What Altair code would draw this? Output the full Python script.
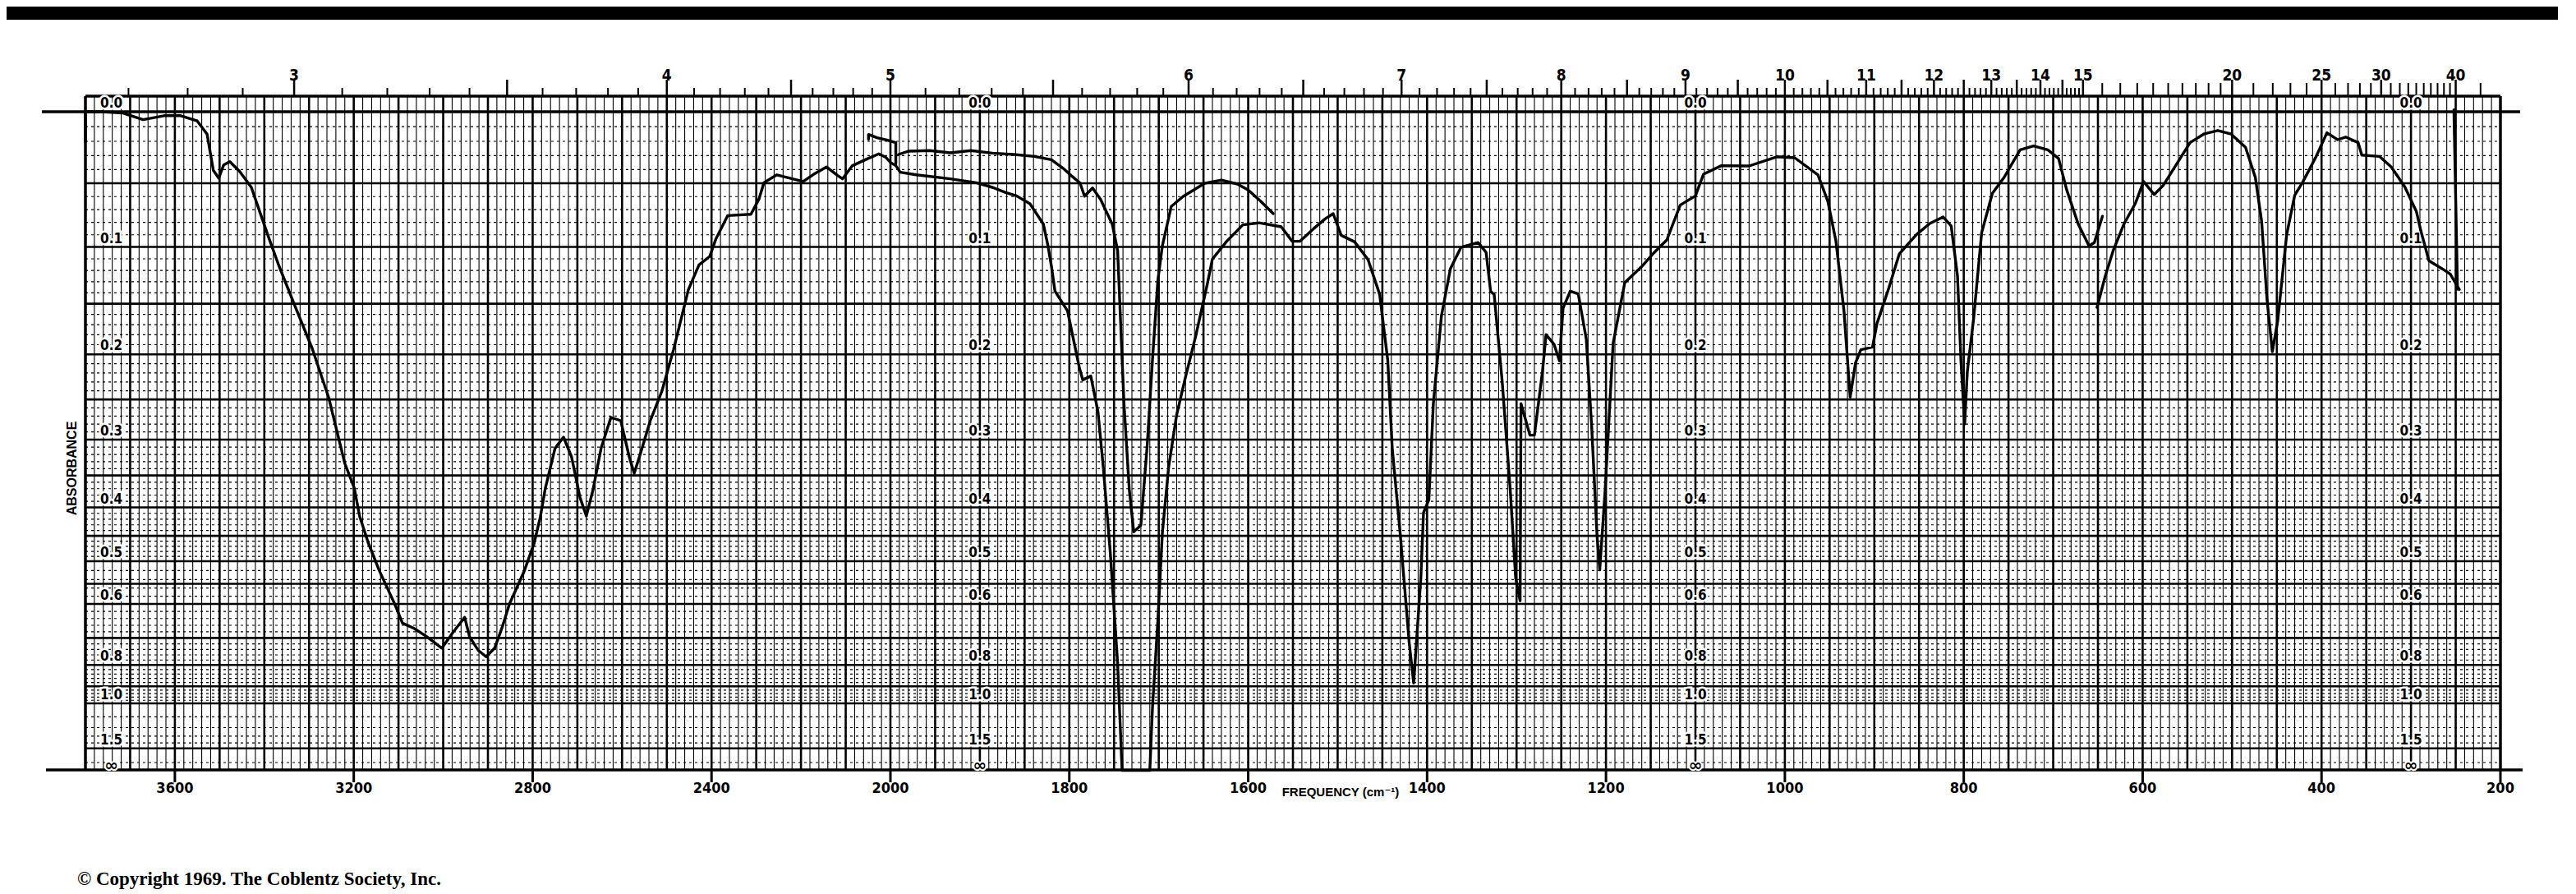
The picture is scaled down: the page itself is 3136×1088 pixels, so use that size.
import altair as alt
import pandas as pd

# ---------------- data (wavenumber cm-1, transmittance %) ----------------
SEG1 = [(3800,95.4),(3800,100.0),(3763,100.0),(3716,99.8),(3671,98.8),(3624,99.4),(3587,99.4),(3550,98.6),
        (3528,96.6),(3514,91.1),(3502,89.9),(3491,91.9),(3477,92.4),(3455,90.9),(3429,88.5),(3392,81.2),
        (3367,76.5),(3330,70.2),(3293,64.0),(3256,56.5),(3220,46.5),(3199,42.8),(3187,38.5),(3168,34.5),
        (3143,30.2),(3109,25.2),(3091,22.2),(3065,21.4),(3036,20.1),(3003,18.4),(2977,20.9),(2952,23.1),
        (2941,20.1),(2922,18.1),(2904,17.1),(2885,18.4),(2867,21.8),(2852,25.1),(2819,30.1),(2797,34.3),
        (2783,38.3),(2772,42.6),(2750,48.8),(2731,50.5),(2713,47.5),(2694,41.3),(2680,38.5),(2665,42.5),
        (2647,48.8),(2625,53.5),(2603,53.0),(2584,47.5),(2573,45.0),(2559,48.0),(2537,53.0),(2511,57.5),
        (2485,63.8),(2452,72.9),(2428,76.7),(2404,78.0),(2390,80.7),(2364,84.2),(2312,84.4),(2294,86.7),
        (2283,89.2),(2254,90.4),(2195,89.4),(2169,90.6),(2143,91.6),(2118,90.3),(2107,89.8),(2085,91.8),
        (2053,92.8),(2026,93.6),(2011,93.1),(2000,92.3),(1994,91.8),(1989,90.8),(1971,90.4),(1933,89.8),
        (1904,89.2),(1886,88.5),(1871,87.7),(1859,87.2),(1844,86.0),(1829,82.9),(1824,79.7),(1820,76.5),
        (1816,72.7),(1802,69.7),(1789,61.2),(1785,59.2),(1776,59.8),(1768,54.4),(1762,45.9),(1754,32.6),
        (1746,16.1),(1741,-0.2),(1710,-0.2),(1707,9.4),(1701,22.6),(1696,35.9),(1689,45.9),(1680,53.9),
        (1670,59.7),(1659,65.7),(1646,73.6),(1640,77.6),(1624,80.3),(1606,82.8),(1588,83.1),(1563,82.5),
        (1551,80.3),(1542,80.3),(1527,82.2),(1514,83.7),(1505,84.5),(1496,81.2),(1481,80.2),(1466,77.5),
        (1453,72.2),(1444,62.2),(1439,48.9),(1430,35.7),(1420,19.2),(1415,13.1),(1407,29.1),(1404,39.0),
        (1398,41.0),(1393,55.6),(1384,68.9),(1374,76.1),(1362,79.4),(1343,80.1),(1334,78.6),(1329,72.7),
        (1325,72.2),(1316,58.9),(1307,42.4),(1301,29.1),(1296,25.6),(1295,55.6),(1285,50.8),(1280,50.8),
        (1271,60.5),(1267,66.1),(1258,64.6),(1252,62.1),(1248,70.1),(1240,72.7),(1231,72.3),(1222,65.4),
        (1216,52.1),(1210,35.5),(1207,30.3),(1201,42.3),(1192,64.8),(1179,74.0),(1159,76.6),(1146,78.6),
        (1132,80.5),(1117,85.8),(1100,87.2),(1091,90.5),(1071,91.8),(1040,91.75),(1009,93.15),(989,93.0),
        (963,90.4),(952,86.4),(943,80.4),(934,69.8),(927,56.6),(921,61.8),(915,63.8),(902,64.2),(897,67.8),
        (884,73.1),(872,78.4),(853,81.3),(838,83.0),(823,84.0),(814,82.6),(807,75.0),(803,61.75),(799,52.5),
        (796,60.5),(789,68.5),(780,81.6),(768,87.6),(755,90.0),(737,94.2),(722,94.8),(706,94.2),(694,92.9),
        (685,88.15),(672,82.9),(660,79.6),(654,80.1),(645,84.1)]
SEG2 = [(2049,95.8),(2049,96.55),(2030,96.05),(2008,95.7),(1994,95.3),(1994,92.05)]
SEG3 = [(1991,93.5),(1980,94.0),(1956,94.1),(1933,93.75),(1910,94.1),(1886,93.7),(1862,93.5),(1839,93.2),
        (1820,92.7),(1807,91.4),(1798,90.3),(1788,89.15),(1783,87.15),(1774,88.4),(1765,86.65),(1752,82.9),
        (1746,78.9),(1743,69.1),(1739,55.9),(1733,42.6),(1728,36.1),(1720,37.1),(1713,49.1),(1707,62.3),
        (1701,74.35),(1696,79.6),(1686,85.6),(1673,87.1),(1649,89.1),(1630,89.6),(1612,89.0),(1600,88.1),
        (1587,86.5),(1572,84.5)]
SEG4 = [(651,70.25),(642,74.9),(633,78.85),(621,82.9),(608,86.1),(599,89.4),(587,87.4),(577,88.8),
        (562,92.05),(547,95.3),(531,96.65),(516,97.15),(501,96.6),(485,94.6),(474,90.0),(467,83.35),
        (461,71.5),(455,63.5),(449,68.2),(439,81.3),(430,87.3),(421,89.3),(406,93.2),(394,96.8),
        (382,95.75),(373,96.15),(359,95.3),(355,93.4),(335,93.2),(322,91.6),(307,88.6),(294,84.85),
        (289,81.9),(284,79.4),(280,77.35),(265,76.1),(256,75.3),(246,72.95)]
SEG5 = [(252,100.3),(248,73.0)]

FREQ_TICKS = [3600, 3200, 2800, 2400, 2000, 1800, 1600, 1400, 1200, 1000, 800, 600, 400, 200]
MICRON_LABELS = [3, 4, 5, 6, 7, 8, 9, 10, 11, 12, 13, 14, 15, 20, 25, 30, 40]
ABS_LABELS = ["0.0", "0.1", "0.2", "0.3", "0.4", "0.5", "0.6", "0.8", "1.0", "1.5"]
ABS_LABEL_COLUMNS = [3742, 1900, 1100, 300]

# chart-paper rulings
MINOR_V = [n for n in range(3780, 2000, -20) if n % 100 != 0] + [n for n in range(1990, 200, -10) if n % 50 != 0]
MAJOR_V = list(range(3700, 1999, -100)) + list(range(1950, 201, -50))
MAJOR_A = [round(0.05 * k, 2) for k in range(1, 13)] + [0.7, 0.8, 0.9, 1.0, 1.5]
MINOR_A = ([round(0.01 * k, 2) for k in range(1, 50) if k % 5 != 0]
           + [round(0.5 + 0.02 * k, 2) for k in range(1, 25) if round(0.5 + 0.02 * k, 2) not in (0.6, 0.7, 0.8, 0.9)]
           + [1.1, 1.2, 1.3, 1.4, 2.0])
TICK_SHORT = [round(0.1 * k, 1) for k in range(27, 150) if k % 5 != 0]
TICK_LONG = [round(0.5 * k, 1) for k in range(6, 31)] + [20, 25, 30, 40]
TICK_MID = [15.5, 16, 16.5, 17, 17.5, 18, 18.5, 19, 19.5, 21, 22, 23, 24, 26, 27, 28, 29,
            31, 32, 33, 34, 35, 36, 37, 38, 39, 45]

# ---------------- layout ----------------
W, H = 2940, 821
XS = alt.Scale(domain=[3800, 2000, 200], range=[0, 980, W], nice=False, zero=False)
YS = alt.Scale(domain=[-0.25, 102.375], nice=False, zero=False)
NARROW = "'DejaVu Sans Condensed', 'Liberation Sans', sans-serif"
WIDE = "'Liberation Sans', 'DejaVu Sans', sans-serif"


def xe():
    return alt.X("nu:Q", scale=XS, axis=None)


def ye():
    return alt.Y("T:Q", scale=YS, axis=None)


dummy = pd.DataFrame({"k": [0]})

band = alt.Chart(dummy).mark_rect(color="black").encode(
    x=alt.value(-96), x2=alt.value(W + 74), y=alt.value(-109), y2=alt.value(-93))

vminor = alt.Chart(pd.DataFrame({"nu": MINOR_V})).mark_rule(color="black", strokeWidth=1.1).encode(
    x=xe(), y=alt.value(0), y2=alt.value(H))
vmajor = alt.Chart(pd.DataFrame({"nu": MAJOR_V})).mark_rule(color="black", strokeWidth=2.6).encode(
    x=xe(), y=alt.value(0), y2=alt.value(H))
vframe = alt.Chart(pd.DataFrame({"nu": [3800, 200]})).mark_rule(color="black", strokeWidth=3.5).encode(
    x=xe(), y=alt.value(0), y2=alt.value(H))

hminor = alt.Chart(pd.DataFrame({"A": MINOR_A})).transform_calculate(
    T="100*pow(10,-datum.A)").mark_rule(color="black", strokeWidth=1.2, strokeDash=[3, 4]).encode(
    y=ye(), x=alt.value(0), x2=alt.value(W))
hmajor = alt.Chart(pd.DataFrame({"A": MAJOR_A})).transform_calculate(
    T="100*pow(10,-datum.A)").mark_rule(color="black", strokeWidth=2.6).encode(
    y=ye(), x=alt.value(0), x2=alt.value(W))
zero_line = alt.Chart(pd.DataFrame({"T": [100.0]})).mark_rule(color="black", strokeWidth=3.5).encode(
    y=ye(), x=alt.value(-53), x2=alt.value(W + 24))
top_frame = alt.Chart(dummy).mark_rule(color="black", strokeWidth=3.5).encode(
    y=alt.value(0), x=alt.value(0), x2=alt.value(W))
bottom_frame = alt.Chart(dummy).mark_rule(color="black", strokeWidth=3.5).encode(
    y=alt.value(H - 1), x=alt.value(-48), x2=alt.value(W + 27))


def top_ticks(vals, length, width):
    return alt.Chart(pd.DataFrame({"um": vals})).transform_calculate(
        nu="10000/datum.um").mark_rule(color="black", strokeWidth=width).encode(
        x=xe(), y=alt.value(0), y2=alt.value(-length))


tick_s = top_ticks(TICK_SHORT, 10, 2)
tick_m = top_ticks(TICK_MID, 16, 2)
tick_l = top_ticks(TICK_LONG, 20, 2.5)

top_labels = alt.Chart(pd.DataFrame({"um": MICRON_LABELS, "lab": [str(v) for v in MICRON_LABELS]})).transform_calculate(
    nu="10000/datum.um").mark_text(font=NARROW, fontSize=19, fontWeight="bold", color="black",
                                   baseline="middle", align="center").encode(
    x=xe(), y=alt.value(-25), text="lab:N")

# bottom frequency scale
freq_df = pd.DataFrame({"nu": FREQ_TICKS, "lab": [str(v) for v in FREQ_TICKS]})
freq_ticks = alt.Chart(freq_df).mark_rule(color="black", strokeWidth=3).encode(
    x=xe(), y=alt.value(H), y2=alt.value(H + 14))
freq_labels = alt.Chart(freq_df).mark_text(font=NARROW, fontSize=18, fontWeight="bold", color="black",
                                           baseline="middle", align="center").encode(
    x=xe(), y=alt.value(H + 22), text="lab:N")

abs_rows = []
for col in ABS_LABEL_COLUMNS:
    for lab in ABS_LABELS:
        abs_rows.append({"nu": col, "A": float(lab), "lab": lab})
abs_df = pd.DataFrame(abs_rows)
abs_base = alt.Chart(abs_df).transform_calculate(T="100*pow(10,-datum.A)")
abs_halo = abs_base.mark_text(font=NARROW, fontSize=17, fontWeight="bold", color="white", stroke="white",
                              strokeWidth=5, baseline="bottom", align="center", dy=-1).encode(
    x=xe(), y=ye(), text="lab:N")
abs_text = abs_base.mark_text(font=NARROW, fontSize=17, fontWeight="bold", color="black",
                              baseline="bottom", align="center", dy=-1).encode(
    x=xe(), y=ye(), text="lab:N")
inf_df = pd.DataFrame({"nu": ABS_LABEL_COLUMNS, "T": [0.0] * 4, "lab": ["∞"] * 4})
inf_halo = alt.Chart(inf_df).mark_text(font="DejaVu Sans", fontSize=20, fontWeight="bold", color="white",
                                       stroke="white", strokeWidth=4, baseline="middle", align="center",
                                       dy=-4).encode(x=xe(), y=ye(), text="lab:N")
inf_text = alt.Chart(inf_df).mark_text(font="DejaVu Sans", fontSize=20, fontWeight="bold", color="black",
                                       baseline="middle", align="center", dy=-4).encode(
    x=xe(), y=ye(), text="lab:N")

rows = []
for s, seg in enumerate([SEG1, SEG2, SEG3, SEG4, SEG5]):
    for i, (nu, t) in enumerate(seg):
        rows.append({"seg": s, "i": i, "nu": nu, "T": t})
spec_df = pd.DataFrame(rows)

spectrum = alt.Chart(spec_df).mark_line(color="black", strokeWidth=3.4, strokeJoin="round",
                                        strokeCap="round").encode(
    x=xe(), y=ye(), detail="seg:N", order="i:Q")

absorbance_title = alt.Chart(dummy).mark_text(text="ABSORBANCE", font=WIDE, fontSize=16,
                                              fontWeight="bold", angle=270, color="black",
                                              align="center", baseline="middle").encode(
    x=alt.value(-16), y=alt.value(453))
freq_title = alt.Chart(dummy).mark_text(text="FREQUENCY  (cm⁻¹)", font=WIDE, fontSize=15,
                                        fontWeight="bold", color="black", align="center",
                                        baseline="middle").encode(
    x=alt.value(1528), y=alt.value(847))
copyright_txt = alt.Chart(dummy).mark_text(text="© Copyright 1969.  The Coblentz Society, Inc.",
                                           font="'Liberation Serif', serif", fontSize=23, fontWeight="bold",
                                           color="black", align="left", baseline="middle").encode(
    x=alt.value(-10), y=alt.value(953))

chart = alt.layer(
    band, vminor, hminor, hmajor, vmajor, vframe, zero_line, top_frame, bottom_frame,
    tick_s, tick_m, tick_l, top_labels, freq_ticks, freq_labels,
    abs_halo, abs_text, inf_halo, inf_text,
    spectrum, absorbance_title, freq_title, copyright_txt,
).properties(
    width=W, height=H,
    autosize=alt.AutoSizeParams(type="none"),
    padding={"left": 96, "top": 109, "right": 70, "bottom": 148},
    background="white",
).configure_view(strokeWidth=0)

chart.save("out.html", embed_options={"renderer": "svg", "actions": False})
